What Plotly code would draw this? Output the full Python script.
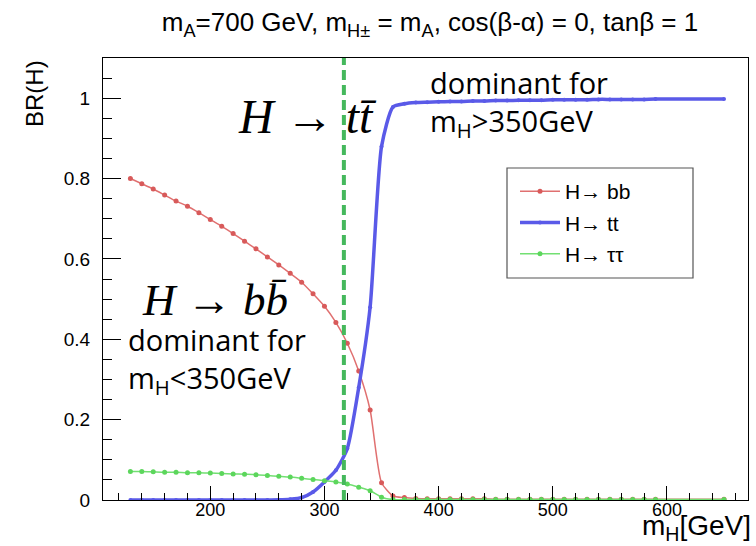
import plotly.graph_objects as go

# ---------------- data ----------------
mass_h = [130, 140, 150, 160, 170, 180, 190, 200, 210, 220, 230, 240, 250, 260,
          270, 280, 290, 300, 310, 320, 330, 340, 350, 360, 370, 380, 390, 400,
          410, 420, 430, 440, 450, 460, 470, 480, 490, 500, 510, 520, 530, 540,
          550, 560, 570, 580, 590, 650]

br_bb = [0.800, 0.787, 0.774, 0.759, 0.744, 0.731, 0.715, 0.698, 0.681, 0.663,
         0.644, 0.625, 0.605, 0.585, 0.564, 0.542, 0.513, 0.482, 0.442, 0.390,
         0.321, 0.224, 0.043, 0.010, 0.006, 0.004, 0.003, 0.003, 0.003, 0.003,
         0.003, 0.003, 0.002, 0.002, 0.002, 0.002, 0.002, 0.002, 0.002, 0.002,
         0.002, 0.002, 0.002, 0.002, 0.002, 0.002, 0.002, 0.002]

br_tt = [0.0, 0.0, 0.0, 0.0, 0.0, 0.0, 0.0, 0.0, 0.0, 0.0,
         0.0, 0.0, 0.0, 0.0005, 0.002, 0.006, 0.020, 0.045, 0.074, 0.128,
         0.280, 0.480, 0.880, 0.978, 0.986, 0.989, 0.990, 0.991, 0.992, 0.992,
         0.993, 0.993, 0.994, 0.994, 0.995, 0.995, 0.995, 0.996, 0.996, 0.996,
         0.996, 0.997, 0.997, 0.997, 0.997, 0.997, 0.998, 0.998]

br_tautau = [0.071, 0.071, 0.070, 0.069, 0.069, 0.068, 0.068, 0.067, 0.066, 0.065,
             0.064, 0.063, 0.061, 0.059, 0.057, 0.054, 0.051, 0.048, 0.045, 0.040,
             0.032, 0.023, 0.007, 0.001, 0.001, 0.001, 0.001, 0.001, 0.001, 0.001,
             0.001, 0.001, 0.001, 0.001, 0.001, 0.001, 0.001, 0.001, 0.001, 0.001,
             0.001, 0.001, 0.001, 0.001, 0.001, 0.001, 0.001, 0.001]

series_names = ["H\u2192 bb", "H\u2192 tt", "H\u2192 \u03c4\u03c4"]
threshold_mass = 317
x_range = [106, 671]
y_range = [0, 1.1]
x_ticks = [200, 300, 400, 500, 600]
y_ticks = [0, 0.2, 0.4, 0.6, 0.8, 1]
y_tick_labels = ["0", "0.2", "0.4", "0.6", "0.8", "1"]

# ---------------- figure ----------------
W, H = 756, 546
L, R, T, B = 103, 8, 58, 46
pw, ph = W - L - R, H - T - B


def px(x):
    return (x - L) / pw


def py(y):
    return (H - B - y) / ph


ROOT_FONT = "Liberation Sans, Arial, sans-serif"
SLIDE_FONT = "Open Sans, Liberation Sans, Arial, sans-serif"
TEX_FONT = "Liberation Serif, Times New Roman, serif"

fig = go.Figure()

fig.add_trace(go.Scatter(
    x=mass_h, y=br_bb, name=series_names[0], mode="lines+markers",
    line=dict(color="#e07070", width=1.5, shape="spline", smoothing=0.6),
    marker=dict(color="#d85a5a", size=5), legendgroup="a"))
fig.add_trace(go.Scatter(
    x=mass_h, y=br_tt, name=series_names[1], mode="lines+markers",
    line=dict(color="#5a5ae8", width=3.5, shape="spline", smoothing=0.6),
    marker=dict(color="#5a5ae8", size=4), legendgroup="b"))
fig.add_trace(go.Scatter(
    x=mass_h, y=br_tautau, name=series_names[2], mode="lines+markers",
    line=dict(color="#72e072", width=1.5, shape="spline", smoothing=0.6),
    marker=dict(color="#5cd65c", size=5), legendgroup="c"))

# dashed threshold line
fig.add_shape(type="line", xref="x", yref="paper", x0=threshold_mass, x1=threshold_mass,
              y0=0, y1=1, line=dict(color="#45b85c", width=4, dash="10px,5px"), layer="above")

# legend frame
fig.add_shape(type="rect", xref="paper", yref="paper",
              x0=px(507), x1=px(693), y0=py(278), y1=py(168),
              line=dict(color="#555555", width=1.2), fillcolor="white", layer="above")

annotations = [
    dict(text="<i>H</i> \u2192 <i>tt\u0304</i>", x=px(307), y=py(117),
         font=dict(family=TEX_FONT, size=48, color="black"), xanchor="center", yanchor="middle"),
    dict(text="dominant for<br>m<sub>H</sub>&gt;350GeV", x=px(428), y=py(104),
         font=dict(family=SLIDE_FONT, size=29, color="black"), xanchor="left", yanchor="middle",
         align="left"),
    dict(text="<i>H</i> \u2192 <i>bb\u0304</i>", x=px(215), y=py(300),
         font=dict(family=TEX_FONT, size=45, color="black"), xanchor="center", yanchor="middle"),
    dict(text="dominant for<br>m<sub>H</sub>&lt;350GeV", x=px(126), y=py(360),
         font=dict(family=SLIDE_FONT, size=29, color="black"), xanchor="left", yanchor="middle",
         align="left"),
    dict(text="BR(H)", x=px(34), y=py(94), textangle=-90,
         font=dict(family=ROOT_FONT, size=24, color="black"), xanchor="center", yanchor="middle"),
    dict(text="m<sub>H</sub>[GeV]", x=px(753), y=py(527),
         font=dict(family=ROOT_FONT, size=28, color="black"), xanchor="right", yanchor="middle"),
]
for a in annotations:
    a.update(xref="paper", yref="paper", showarrow=False)

fig.update_layout(
    width=W, height=H,
    margin=dict(l=L, r=R, t=T, b=B),
    paper_bgcolor="white", plot_bgcolor="white",
    title=dict(text="m<sub>A</sub>=700 GeV, m<sub>H\u00b1</sub> = m<sub>A</sub>, cos(\u03b2-\u03b1) = 0, tan\u03b2 = 1",
               x=430 / W, xref="container", xanchor="center",
               y=1 - 22 / H, yref="container", yanchor="middle",
               font=dict(family=ROOT_FONT, size=26, color="black")),
    annotations=annotations,
    showlegend=True,
    legend=dict(x=px(515), y=py(171), xanchor="left", yanchor="top",
                bgcolor="rgba(0,0,0,0)", borderwidth=0,
                font=dict(family=ROOT_FONT, size=21, color="black"),
                tracegroupgap=1, itemwidth=40),
    font=dict(family=ROOT_FONT, color="black"),
)

fig.update_xaxes(
    range=x_range, tickvals=x_ticks, ticks="inside", ticklen=14, tickwidth=1, tickcolor="black",
    minor=dict(dtick=20, tick0=0, ticks="inside", ticklen=7, tickcolor="black", tickwidth=1),
    showline=True, mirror=True, linecolor="black", linewidth=1,
    showgrid=False, zeroline=False, ticklabelstandoff=-7,
    tickfont=dict(family=ROOT_FONT, size=18, color="black"))
fig.update_yaxes(
    range=y_range, tickvals=y_ticks, ticktext=y_tick_labels, ticks="inside", ticklen=18,
    tickwidth=1, tickcolor="black",
    minor=dict(dtick=0.05, tick0=0, ticks="inside", ticklen=9, tickcolor="black", tickwidth=1),
    showline=True, mirror=True, linecolor="black", linewidth=1,
    showgrid=False, zeroline=False, ticklabelstandoff=8,
    tickfont=dict(family=ROOT_FONT, size=19, color="black"))

fig.write_html("out.html")
